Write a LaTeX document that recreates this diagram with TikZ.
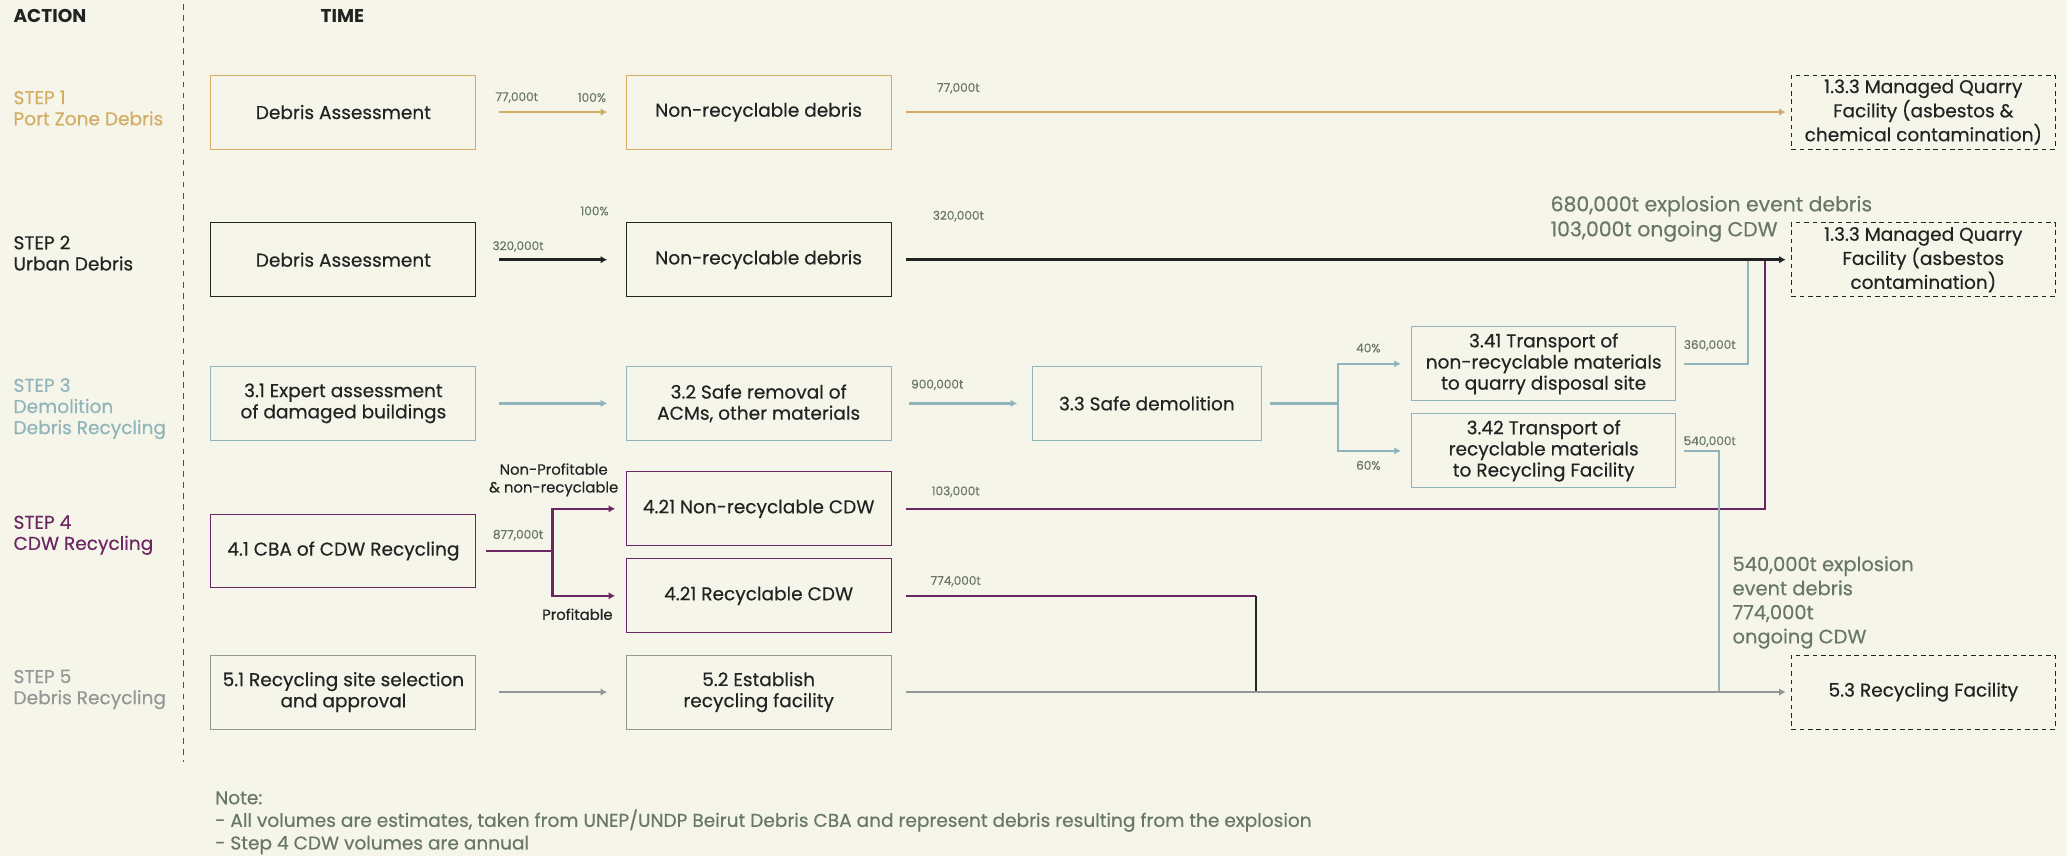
\documentclass[tikz,border=0pt]{standalone}
\usepackage{fontspec}
\setmainfont{Poppins}[UprightFeatures={FakeBold=0.35}]
\usetikzlibrary{arrows.meta, positioning}

\definecolor{bgcream}{RGB}{245, 245, 234}
\definecolor{portgold}{RGB}{211, 173, 99}
\definecolor{urbanblack}{RGB}{35, 35, 35}
\definecolor{demoblue}{RGB}{143, 181, 186}
\definecolor{cdwpurple}{RGB}{108, 38, 100}
\definecolor{recgray}{RGB}{150, 150, 150}
\definecolor{notegreen}{RGB}{104, 120, 98}

\tikzset{
  stepbox/.style={draw=#1, line width=0.5pt, minimum width=5.025cm, minimum height=1.4cm,
    inner sep=2pt, align=center, text=urbanblack, font=\fontsize{10}{11.4}\selectfont},
  sinkbox/.style={draw=urbanblack, line width=0.5pt, dash pattern=on 2.5pt off 2pt,
    minimum width=5cm, minimum height=1.4cm, inner sep=2pt, align=center, text=urbanblack,
    font=\fontsize{10}{11.4}\selectfont},
  steplabel/.style={anchor=west, align=left, text=#1, inner sep=0pt, font=\fontsize{10}{11.4}\selectfont},
  flow/.style={draw=#1, line width=1.3pt, -{Latex[length=3.5pt, width=4pt]}},
  link/.style={draw=#1, line width=1.3pt},
  tonnage/.style={text=notegreen, font=\fontsize{6.5}{7.5}\selectfont, inner sep=1pt},
  branchtxt/.style={text=urbanblack, align=center, font=\fontsize{8}{9.6}\selectfont, inner sep=1pt},
  bigtonnage/.style={text=notegreen, align=left, font=\fontsize{10.5}{13}\selectfont, inner sep=0pt}
}

\begin{document}
\begin{tikzpicture}[x=0.025cm, y=-0.025cm]
  % Canvas
  \fill[bgcream] (0, 0) rectangle (1568, 649);
  \useasboundingbox (0, 0) rectangle (1568, 649);

  % Headers and divider
  \node[anchor=west, inner sep=0pt, font=\fontsize{10}{12}\selectfont\bfseries, text=urbanblack] (hact) at (10, 12) {ACTION};
  \node[anchor=west, inner sep=0pt, font=\fontsize{10}{12}\selectfont\bfseries, text=urbanblack] (htime) at (243, 12) {TIME};
  \draw[urbanblack!80, line width=0.5pt, dash pattern=on 3pt off 3pt] (139, 3) -- (139, 578);

  % Step labels
  \node[steplabel=portgold] (lab1) at (10, 82) {STEP 1\\Port Zone Debris};
  \node[steplabel=urbanblack] (lab2) at (10, 192) {STEP 2\\Urban Debris};
  \node[steplabel=demoblue] (lab3) at (10, 310) {STEP 3\\Demolition\\Debris Recycling};
  \node[steplabel=cdwpurple] (lab4) at (10, 406) {STEP 4\\CDW Recycling};
  \node[steplabel=recgray] (lab5) at (10, 523) {STEP 5\\Debris Recycling};

  % Step 1
  \node[stepbox=portgold] (da1) at (260.5, 85) {Debris Assessment};
  \node[stepbox=portgold] (nr1) at (575.5, 85) {Non-recyclable debris};
  \node[sinkbox] (mq1) at (1459, 85) {1.3.3 Managed Quarry\\Facility (asbestos \&\\chemical contamination)};

  % Step 2
  \node[stepbox=urbanblack] (da2) at (260.5, 197) {Debris Assessment};
  \node[stepbox=urbanblack] (nr2) at (575.5, 197) {Non-recyclable debris};
  \node[sinkbox] (mq2) at (1459, 197) {1.3.3 Managed Quarry\\Facility (asbestos\\contamination)};

  % Step 3
  \node[stepbox=demoblue] (ea31) at (260.5, 306) {3.1 Expert assessment\\of damaged buildings};
  \node[stepbox=demoblue] (sr32) at (575.5, 306) {3.2 Safe removal of\\ACMs, other materials};
  \node[stepbox=demoblue, minimum width=4.35cm] (sd33) at (870, 306) {3.3 Safe demolition};
  \node[stepbox=demoblue, minimum width=5cm] (tq341) at (1171, 276) {3.41 Transport of\\non-recyclable materials\\to quarry disposal site};
  \node[stepbox=demoblue, minimum width=5cm] (tr342) at (1171, 342) {3.42 Transport of\\recyclable materials\\to Recycling Facility};

  % Step 4
  \node[stepbox=cdwpurple] (cba41) at (260.5, 418) {4.1 CBA of CDW Recycling};
  \node[stepbox=cdwpurple] (nc421) at (575.5, 386) {4.21 Non-recyclable CDW};
  \node[stepbox=cdwpurple] (rc421) at (575.5, 452) {4.21 Recyclable CDW};

  % Step 5
  \node[stepbox=recgray] (ss51) at (260.5, 525) {5.1 Recycling site selection\\and approval};
  \node[stepbox=recgray] (ef52) at (575.5, 525) {5.2 Establish\\recycling facility};
  \node[sinkbox] (rf53) at (1459, 525) {5.3 Recycling Facility};

  % Junction points
  \coordinate (sp3) at (1015, 306);
  \coordinate (sp4) at (419, 418);
  \coordinate (j2b) at (1326, 197);
  \coordinate (j2a) at (1339, 197);
  \coordinate (j5b) at (1304, 525);
  \coordinate (k5) at (953, 452);
  \coordinate (j5a) at (953, 525);

  % Flows feeding the quarry and recycling lines
  \draw[link=demoblue, shorten <=0.15cm] (tq341) -| (j2b);
  \draw[link=cdwpurple, shorten <=0.275cm] (nc421) -| (j2a);
  \draw[link=demoblue, shorten <=0.15cm] (tr342) -| (j5b);
  \draw[link=cdwpurple, shorten <=0.275cm] (rc421) -- (k5);
  \draw[link=urbanblack] (k5) -- (j5a);

  % Step 1 flows
  \draw[flow=portgold, shorten <=0.425cm, shorten >=0.35cm] (da1) -- (nr1);
  \draw[flow=portgold, shorten <=0.275cm, shorten >=0.1cm] (nr1) -- (mq1);

  % Step 2 flows
  \draw[flow=urbanblack, shorten <=0.425cm, shorten >=0.35cm] (da2) -- (nr2);
  \draw[flow=urbanblack, shorten <=0.275cm, shorten >=0.1cm] (nr2) -- (mq2);

  % Step 3 flows
  \draw[flow=demoblue, shorten <=0.425cm, shorten >=0.35cm] (ea31) -- (sr32);
  \draw[flow=demoblue, shorten <=0.325cm, shorten >=0.275cm] (sr32) -- (sd33);
  \draw[link=demoblue, shorten <=0.15cm] (sd33) -- (sp3);
  \draw[flow=demoblue, shorten >=0.2cm] (sp3) |- (tq341);
  \draw[flow=demoblue, shorten >=0.2cm] (sp3) |- (tr342);

  % Step 4 flows
  \draw[link=cdwpurple, shorten <=0.175cm] (cba41) -- (sp4);
  \draw[flow=cdwpurple, shorten >=0.2cm] (sp4) |- (nc421);
  \draw[flow=cdwpurple, shorten >=0.2cm] (sp4) |- (rc421);

  % Step 5 flows
  \draw[flow=recgray, shorten <=0.425cm, shorten >=0.35cm] (ss51) -- (ef52);
  \draw[flow=recgray, shorten <=0.275cm, shorten >=0.1cm] (ef52) -- (rf53);

  % Tonnages
  \node[tonnage] (t1a) at (392, 74) {77,000t};
  \node[tonnage] (t1b) at (449, 74) {100\%};
  \node[tonnage] (t1c) at (727, 67) {77,000t};
  \node[tonnage] (t2a) at (451, 160) {100\%};
  \node[tonnage] (t2b) at (393, 187) {320,000t};
  \node[tonnage] (t2c) at (727, 164) {320,000t};
  \node[tonnage] (t3a) at (711, 292) {900,000t};
  \node[tonnage] (t3b) at (1038, 264) {40\%};
  \node[tonnage] (t3c) at (1038, 353) {60\%};
  \node[tonnage] (t3d) at (1297, 262) {360,000t};
  \node[tonnage] (t3e) at (1297, 335) {540,000t};
  \node[tonnage] (t4a) at (393, 406) {877,000t};
  \node[tonnage] (t4b) at (725, 373) {103,000t};
  \node[tonnage] (t4c) at (725, 441) {774,000t};
  \node[branchtxt] (br4a) at (420, 364) {Non-Profitable\\\& non-recyclable};
  \node[branchtxt] (br4b) at (438, 466) {Profitable};

  % Totals
  \node[bigtonnage, anchor=west, font=\fontsize{11}{13.5}\selectfont] (tot2) at (1176, 166) {680,000t explosion event debris\\103,000t ongoing CDW};
  \node[bigtonnage, anchor=west] (tot5) at (1314, 457) {540,000t explosion\\event debris\\774,000t\\ongoing CDW};

  % Note
  \node[anchor=north west, align=left, text=notegreen, font=\fontsize{10}{12.2}\selectfont, inner sep=0pt] (note) at (163, 600)
    {Note:\\- All volumes are estimates, taken from UNEP/UNDP Beirut Debris CBA and represent debris resulting from the explosion\\- Step 4 CDW volumes are annual};
\end{tikzpicture}
\end{document}
